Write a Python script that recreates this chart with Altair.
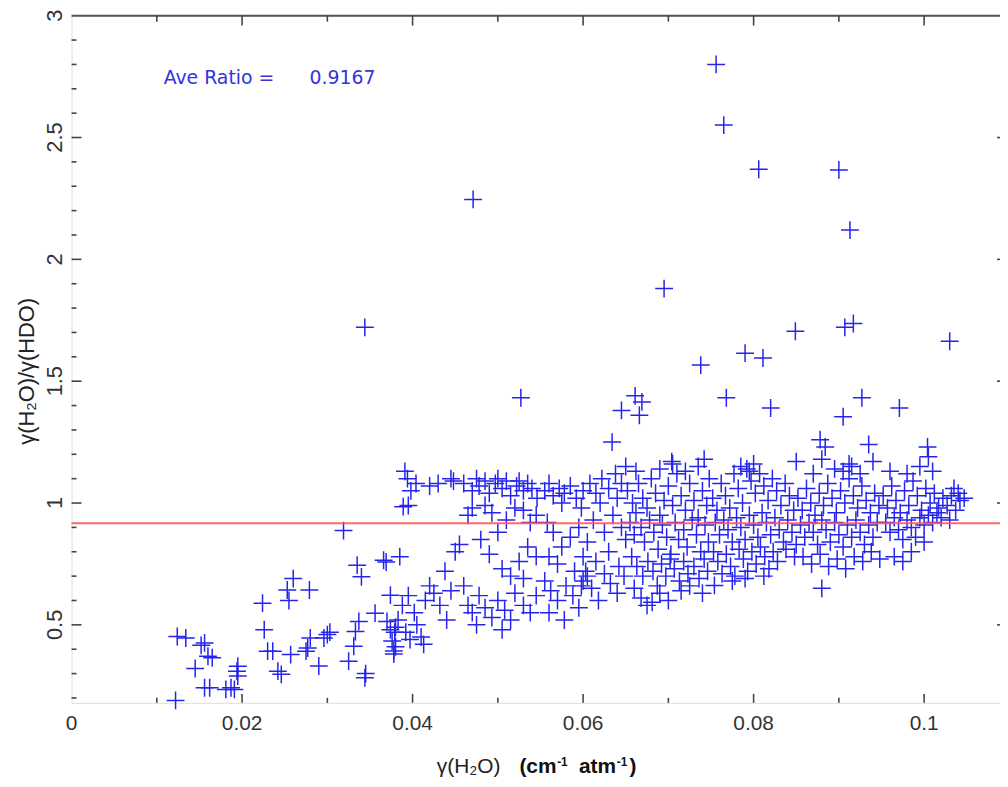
import altair as alt
import pandas as pd

W, H = 935, 692
X_DOMAIN = [0, 0.1089]
Y_DOMAIN = [0.18, 3.0]

# ---- data: gamma(H2O), gamma(H2O)/gamma(HDO) ----
left_pts = [
    (0.0122, 0.19), (0.0124, 0.452), (0.0134, 0.446), (0.0145, 0.321), (0.0152, 0.416),
    (0.0156, 0.426), (0.0160, 0.371), (0.0165, 0.365), (0.0156, 0.242), (0.0162, 0.242),
    (0.0181, 0.235), (0.0187, 0.242), (0.0191, 0.235), (0.0194, 0.31), (0.0195, 0.29),
    (0.0195, 0.33), (0.0224, 0.589), (0.0226, 0.48), (0.0230, 0.392), (0.0236, 0.392),
    (0.0242, 0.31), (0.0246, 0.297), (0.0253, 0.643), (0.0255, 0.600), (0.0257, 0.378),
    (0.0260, 0.690), (0.0275, 0.392), (0.0277, 0.405), (0.0279, 0.643), (0.0280, 0.446),
    (0.0290, 0.331), (0.0296, 0.446), (0.0300, 0.46), (0.0303, 0.47), (0.0319, 0.887),
    (0.0325, 0.351), (0.0331, 0.412), (0.0333, 0.473), (0.0337, 0.514), (0.0335, 0.745),
    (0.0340, 0.697), (0.0345, 0.30), (0.0344, 0.283), (0.0356, 0.548), (0.0366, 0.765),
    (0.0369, 0.758), (0.0374, 0.622), (0.0370, 0.514), (0.0374, 0.48), (0.0376, 0.434),
    (0.0378, 0.393), (0.0380, 0.49), (0.0379, 0.47), (0.0380, 0.41), (0.0378, 0.38),
]

outlier_pts = [
    (0.0756, 2.80), (0.0765, 2.551), (0.0806, 2.37), (0.0900, 2.367), (0.0913, 2.12),
    (0.0471, 2.246), (0.0344, 1.721), (0.0695, 1.88), (0.0527, 1.432), (0.0738, 1.566),
    (0.0768, 1.432), (0.0790, 1.615), (0.0811, 1.595), (0.0820, 1.39), (0.0849, 1.705),
    (0.0907, 1.721), (0.0917, 1.737), (0.1030, 1.664), (0.0927, 1.432), (0.0971, 1.39),
    (0.0905, 1.354), (0.0878, 1.26), (0.0884, 1.23), (0.0661, 1.44), (0.0669, 1.415),
    (0.0666, 1.36), (0.0645, 1.38), (0.0634, 1.25), (0.0704, 1.17), (0.0850, 1.17),
    (0.0935, 1.24), (0.1004, 1.23), (0.0912, 1.16), (0.0681, 0.593), (0.0754, 0.662),
    (0.0880, 0.65),
]

band_038_045 = [
    (0.0391, 1.13), (0.0394, 1.10), (0.0398, 1.05), (0.0389, 0.985), (0.0395, 0.99),
    (0.0404, 1.08), (0.0420, 1.07), (0.0430, 1.08), (0.0448, 1.09), (0.0445, 1.10),
    (0.0385, 0.78), (0.0395, 0.62), (0.0402, 0.55), (0.0410, 0.45), (0.0397, 0.44),
    (0.0405, 0.50), (0.0415, 0.60), (0.0420, 0.66), (0.0425, 0.63), (0.0432, 0.58),
    (0.0440, 0.52), (0.0445, 0.64), (0.0438, 0.72), (0.0450, 0.80), (0.0455, 0.83),
    (0.0413, 0.42), (0.0392, 0.47), (0.0388, 0.58), (0.0383, 0.52),
]

band_045_055 = [
    (0.0460, 1.08), (0.0470, 1.05), (0.0478, 1.07), (0.0485, 1.09), (0.0490, 1.04),
    (0.0497, 1.08), (0.0505, 1.06), (0.0510, 1.09), (0.0515, 1.03), (0.0522, 1.07),
    (0.0530, 1.05), (0.0535, 1.08), (0.0540, 1.06), (0.0546, 1.02), (0.0475, 1.10),
    (0.0500, 1.10), (0.0525, 1.09), (0.0470, 0.98), (0.0465, 0.95), (0.0485, 0.99),
    (0.0493, 0.96), (0.0510, 0.93), (0.0520, 0.98), (0.0530, 0.97), (0.0538, 0.92),
    (0.0545, 0.95), (0.0500, 0.88), (0.0480, 0.85), (0.0490, 0.79), (0.0505, 0.73),
    (0.0515, 0.70), (0.0525, 0.76), (0.0535, 0.82), (0.0545, 0.78), (0.0530, 0.69),
    (0.0460, 0.66), (0.0465, 0.58), (0.0470, 0.55), (0.0478, 0.62), (0.0485, 0.57),
    (0.0493, 0.53), (0.0500, 0.60), (0.0508, 0.56), (0.0515, 0.52), (0.0520, 0.63),
    (0.0530, 0.58), (0.0538, 0.55), (0.0545, 0.62), (0.0475, 0.50), (0.0505, 0.48),
]

band_055_065 = [
    (0.0555, 1.05), (0.0560, 1.08), (0.0565, 1.03), (0.0572, 1.06), (0.0578, 1.04),
    (0.0585, 1.07), (0.0592, 1.02), (0.0600, 1.05), (0.0608, 1.08), (0.0615, 1.04),
    (0.0622, 1.10), (0.0630, 1.06), (0.0638, 1.12), (0.0645, 1.08), (0.0650, 1.15),
    (0.0575, 1.00), (0.0598, 0.98), (0.0620, 1.00), (0.0640, 1.02),
    (0.0558, 0.92), (0.0565, 0.88), (0.0575, 0.82), (0.0585, 0.86), (0.0595, 0.90),
    (0.0605, 0.84), (0.0612, 0.93), (0.0625, 0.88), (0.0635, 0.95), (0.0645, 0.90),
    (0.0650, 0.85), (0.0560, 0.78), (0.0570, 0.75), (0.0590, 0.72), (0.0600, 0.78),
    (0.0615, 0.76), (0.0630, 0.80), (0.0642, 0.74),
    (0.0555, 0.68), (0.0562, 0.64), (0.0570, 0.60), (0.0580, 0.66), (0.0588, 0.62),
    (0.0595, 0.57), (0.0600, 0.68), (0.0605, 0.70), (0.0610, 0.65), (0.0618, 0.60),
    (0.0625, 0.71), (0.0632, 0.67), (0.0640, 0.63), (0.0648, 0.70), (0.0560, 0.55),
    (0.0578, 0.52), (0.0598, 0.66), (0.0603, 0.72),
]

band_065_075 = [
    (0.0652, 1.05), (0.0658, 1.00), (0.0662, 0.96), (0.0665, 1.08), (0.0670, 1.02),
    (0.0675, 0.98), (0.0680, 1.10), (0.0685, 1.04), (0.0690, 0.95), (0.0695, 1.01),
    (0.0700, 1.07), (0.0705, 0.99), (0.0710, 1.12), (0.0715, 1.03), (0.0720, 0.97),
    (0.0725, 1.08), (0.0730, 1.01), (0.0735, 0.94), (0.0740, 1.05), (0.0745, 0.99),
    (0.0748, 1.10),
    (0.0655, 0.92), (0.0660, 0.87), (0.0668, 0.90), (0.0672, 0.84), (0.0678, 0.93),
    (0.0683, 0.88), (0.0688, 0.81), (0.0693, 0.91), (0.0698, 0.86), (0.0703, 0.79),
    (0.0708, 0.92), (0.0712, 0.85), (0.0718, 0.89), (0.0722, 0.82), (0.0728, 0.93),
    (0.0733, 0.87), (0.0738, 0.80), (0.0743, 0.91), (0.0747, 0.84),
    (0.0657, 0.78), (0.0663, 0.74), (0.0670, 0.70), (0.0676, 0.76), (0.0682, 0.72),
    (0.0687, 0.66), (0.0692, 0.75), (0.0697, 0.70), (0.0702, 0.77), (0.0707, 0.73),
    (0.0713, 0.68), (0.0718, 0.76), (0.0723, 0.71), (0.0730, 0.74), (0.0736, 0.69),
    (0.0742, 0.77), (0.0746, 0.72),
    (0.0660, 0.65), (0.0668, 0.61), (0.0675, 0.58), (0.0690, 0.63), (0.0700, 0.60),
    (0.0715, 0.64), (0.0725, 0.66), (0.0740, 0.63),
    (0.0662, 1.13), (0.0690, 1.14), (0.0705, 1.16), (0.0720, 1.13), (0.0735, 1.15),
    (0.0742, 1.18),
]

band_075_085 = [
    (0.0752, 1.02), (0.0757, 0.97), (0.0762, 1.08), (0.0767, 1.03), (0.0772, 0.98),
    (0.0777, 1.12), (0.0782, 1.06), (0.0787, 1.00), (0.0792, 1.14), (0.0797, 1.09),
    (0.0802, 1.04), (0.0807, 1.12), (0.0812, 1.07), (0.0817, 1.01), (0.0822, 1.10),
    (0.0827, 1.05), (0.0832, 0.99), (0.0837, 1.08), (0.0842, 1.03), (0.0847, 0.97),
    (0.0755, 0.92), (0.0760, 0.87), (0.0765, 0.93), (0.0770, 0.89), (0.0775, 0.84),
    (0.0780, 0.94), (0.0785, 0.90), (0.0790, 0.85), (0.0795, 0.95), (0.0800, 0.91),
    (0.0805, 0.86), (0.0810, 0.96), (0.0815, 0.92), (0.0820, 0.87), (0.0825, 0.94),
    (0.0830, 0.89), (0.0835, 0.84), (0.0840, 0.93), (0.0845, 0.88), (0.0850, 0.83),
    (0.0753, 0.80), (0.0758, 0.76), (0.0763, 0.71), (0.0768, 0.79), (0.0773, 0.74),
    (0.0778, 0.70), (0.0783, 0.81), (0.0788, 0.77), (0.0793, 0.72), (0.0798, 0.80),
    (0.0803, 0.75), (0.0808, 0.82), (0.0813, 0.78), (0.0818, 0.73), (0.0823, 0.80),
    (0.0828, 0.76), (0.0838, 0.81), (0.0848, 0.78),
    (0.0785, 1.15), (0.0795, 1.13), (0.0800, 1.16), (0.0790, 0.69), (0.0775, 0.68),
    (0.0812, 0.70),
]

band_085_095 = [
    (0.0852, 1.02), (0.0857, 0.97), (0.0862, 1.06), (0.0867, 1.00), (0.0872, 0.95),
    (0.0877, 1.04), (0.0882, 0.99), (0.0887, 1.08), (0.0892, 1.02), (0.0897, 0.96),
    (0.0902, 1.05), (0.0907, 1.00), (0.0912, 1.10), (0.0917, 1.03), (0.0922, 0.98),
    (0.0927, 1.07), (0.0932, 1.01), (0.0937, 0.96), (0.0942, 1.04), (0.0947, 0.99),
    (0.0855, 0.91), (0.0860, 0.86), (0.0865, 0.92), (0.0870, 0.88), (0.0875, 0.83),
    (0.0880, 0.93), (0.0885, 0.89), (0.0890, 0.84), (0.0895, 0.92), (0.0900, 0.87),
    (0.0905, 0.82), (0.0910, 0.91), (0.0915, 0.86), (0.0920, 0.93), (0.0925, 0.88),
    (0.0930, 0.83), (0.0935, 0.91), (0.0940, 0.86), (0.0945, 0.92),
    (0.0858, 0.78), (0.0868, 0.75), (0.0878, 0.79), (0.0888, 0.74), (0.0898, 0.77),
    (0.0908, 0.73), (0.0918, 0.78), (0.0928, 0.76), (0.0938, 0.80), (0.0948, 0.77),
    (0.0870, 1.12), (0.0895, 1.14), (0.0905, 1.13), (0.0915, 1.15), (0.0925, 1.12),
    (0.0940, 1.17), (0.0880, 1.18),
]

band_095_105 = [
    (0.0952, 1.03), (0.0957, 0.98), (0.0962, 1.07), (0.0967, 1.01), (0.0972, 0.96),
    (0.0977, 1.05), (0.0982, 0.99), (0.0987, 1.09), (0.0992, 1.03), (0.0997, 0.97),
    (0.1002, 1.06), (0.1007, 1.00), (0.1012, 1.04), (0.1017, 0.98), (0.1022, 1.02),
    (0.1027, 0.99), (0.1032, 1.03), (0.1037, 0.97), (0.1042, 1.01), (0.1047, 1.02),
    (0.0955, 0.92), (0.0960, 0.88), (0.0965, 0.94), (0.0970, 0.89), (0.0975, 0.85),
    (0.0980, 0.93), (0.0985, 0.90), (0.0990, 0.86), (0.0995, 0.94), (0.1000, 0.91),
    (0.1005, 0.95), (0.1010, 0.92), (0.1015, 0.96), (0.1020, 0.94), (0.1030, 0.93),
    (0.0985, 0.80), (0.0965, 0.78), (0.1000, 0.84), (0.0975, 0.76),
    (0.0960, 1.13), (0.0980, 1.12), (0.0995, 1.15), (0.1005, 1.19), (0.1010, 1.13),
    (0.1035, 1.06), (0.1040, 1.04),
]

ave_ratio = [0.9167]
ann_text = ["Ave Ratio =", "0.9167"]
ann_x = [0.0108, 0.0279]
ann_y = [2.72, 2.72]

x_label_values = [0, 0.02, 0.04, 0.06, 0.08, 0.1]
x_label_text = ["0", "0.02", "0.04", "0.06", "0.08", "0.1"]
y_label_values = [0.5, 1, 1.5, 2, 2.5, 3]
y_label_text = ["0.5", "1", "1.5", "2", "2.5", "3"]
x_major_ticks = [0.02, 0.04, 0.06, 0.08, 0.1]
x_minor_ticks = [0.01, 0.03, 0.05, 0.07, 0.09]
y_major_ticks = [0.5, 1.0, 1.5, 2.0, 2.5]
y_minor_ticks = [0.2, 0.3, 0.4, 0.6, 0.7, 0.8, 0.9, 1.1, 1.2, 1.3, 1.4, 1.6, 1.7,
                 1.8, 1.9, 2.1, 2.2, 2.3, 2.4, 2.6, 2.7, 2.8, 2.9]

y_title = "γ(H₂O)/γ(HDO)"
x_title_a = "γ(H₂O)"
x_title_b = ["(cm", "-1", "atm", "-1", ")"]

# ---- build ----
all_pts = (left_pts + outlier_pts + band_038_045 + band_045_055 + band_055_065
           + band_065_075 + band_075_085 + band_085_095 + band_095_105)
df = pd.DataFrame(all_pts, columns=["g", "r"])

xs = alt.Scale(domain=X_DOMAIN, nice=False, zero=False)
ys = alt.Scale(domain=Y_DOMAIN, nice=False, zero=False)

BLUE = "#2424ee"
AXC = "#555555"
LABC = "#333333"

points = alt.Chart(df).mark_point(
    shape="M-1,0L1,0M0,-1L0,1", filled=False, size=324, strokeWidth=1.5,
    color=BLUE, opacity=1, clip=False
).encode(
    x=alt.X("g:Q", scale=xs, axis=alt.Axis(
        labels=False, title=None, grid=False, ticks=False,
        domainColor=AXC, domainWidth=2)),
    y=alt.Y("r:Q", scale=ys, axis=alt.Axis(
        labels=False, title=None, grid=False, ticks=False,
        domainColor=AXC, domainWidth=2)),
)

avg_line = alt.Chart(pd.DataFrame({"a": ave_ratio})).mark_rule(
    color="#ff5a5a", strokeWidth=2, opacity=0.9
).encode(y=alt.Y("a:Q", scale=ys, axis=None))

top_frame = alt.Chart(pd.DataFrame({"k": [0]})).mark_rule(
    color=AXC, strokeWidth=2
).encode(x=alt.value(0), x2=alt.value(W), y=alt.value(0))


def xticks(vals, y0, y1):
    return alt.Chart(pd.DataFrame({"v": vals})).mark_rule(
        color="#444444", strokeWidth=1.6
    ).encode(x=alt.X("v:Q", scale=xs, axis=None), y=alt.value(y0), y2=alt.value(y1))


def yticks(vals, x0, x1):
    return alt.Chart(pd.DataFrame({"v": vals})).mark_rule(
        color="#444444", strokeWidth=1.6
    ).encode(y=alt.Y("v:Q", scale=ys, axis=None), x=alt.value(x0), x2=alt.value(x1))


tick_layers = [
    xticks(x_major_ticks, H, H - 9), xticks(x_minor_ticks, H, H - 5),
    xticks(x_major_ticks, 0, 10), xticks(x_minor_ticks, 0, 6),
    yticks(y_major_ticks, 0, 10), yticks(y_minor_ticks, 0, 5),
    yticks(y_major_ticks, W - 3, W),
]

x_labels = alt.Chart(pd.DataFrame({"v": x_label_values, "s": x_label_text})).mark_text(
    align="center", baseline="top", font="Liberation Sans", fontSize=21, color=LABC
).encode(x=alt.X("v:Q", scale=xs, axis=None), y=alt.value(H + 10), text="s:N")

y_labels = alt.Chart(pd.DataFrame({"v": y_label_values, "s": y_label_text})).mark_text(
    align="center", baseline="alphabetic", angle=270, font="Liberation Sans",
    fontSize=22, color=LABC
).encode(y=alt.Y("v:Q", scale=ys, axis=None), x=alt.value(-10), text="s:N")

ann = alt.Chart(pd.DataFrame({"t": ann_text, "x": ann_x, "y": ann_y})).mark_text(
    align="left", baseline="alphabetic", font="DejaVu Sans", fontSize=19, color="#3333dd"
).encode(x=alt.X("x:Q", scale=xs, axis=None), y=alt.Y("y:Q", scale=ys, axis=None), text="t:N")

ytitle = alt.Chart(pd.DataFrame({"t": [y_title]})).mark_text(
    align="left", baseline="middle", angle=270, font="Liberation Sans", fontSize=22,
    color="#222222"
).encode(x=alt.value(-45), y=alt.value(432), text="t:N")

xtitle_a = alt.Chart(pd.DataFrame({"t": [x_title_a]})).mark_text(
    align="right", baseline="alphabetic", font="Liberation Sans", fontSize=21,
    color="#222222"
).encode(x=alt.value(432), y=alt.value(763), text="t:N")

# bold units: main pieces and superscripts
xb_main = alt.Chart(pd.DataFrame({"t": [x_title_b[0], x_title_b[2], x_title_b[4]],
                                  "px": [451, 511, 562]})).mark_text(
    align="left", baseline="alphabetic", font="Liberation Sans", fontSize=21,
    fontWeight="bold", color="#111111"
).encode(x=alt.X("px:Q", scale=None, axis=None), y=alt.value(763), text="t:N")

xb_sup = alt.Chart(pd.DataFrame({"t": [x_title_b[1], x_title_b[3]],
                                 "px": [489, 549]})).mark_text(
    align="left", baseline="alphabetic", font="Liberation Sans", fontSize=12,
    fontWeight="bold", color="#111111"
).encode(x=alt.X("px:Q", scale=None, axis=None), y=alt.value(756), text="t:N")

chart = alt.layer(
    points, avg_line, top_frame, *tick_layers, x_labels, y_labels, ann, ytitle,
    xtitle_a, xb_main, xb_sup
).properties(
    width=W, height=H,
    autosize=alt.AutoSizeParams(type="none"),
    padding={"left": 64, "top": 5, "right": 0, "bottom": 80},
).configure_view(stroke=None).configure(background="white")

chart.save("out.html", embed_options={"renderer": "svg", "actions": False})
